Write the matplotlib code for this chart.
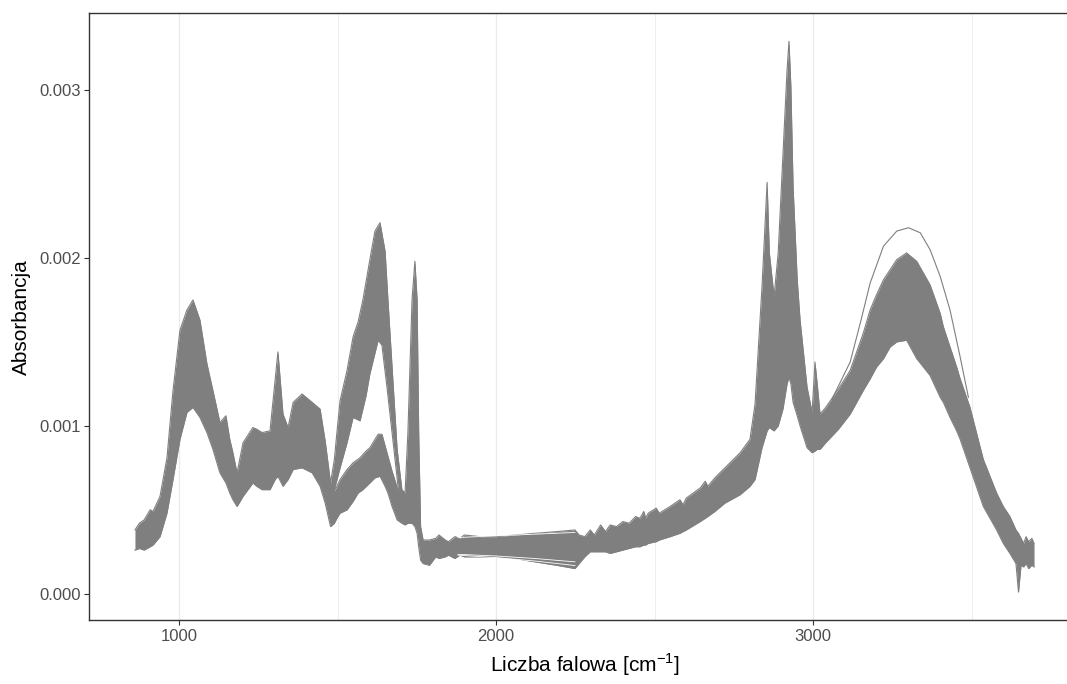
import numpy as np
import matplotlib
matplotlib.use('Agg')
import matplotlib.pyplot as plt

plt.rcParams['font.family'] = ['Liberation Sans', 'DejaVu Sans']
plt.rcParams['mathtext.fontset'] = 'custom'
plt.rcParams['mathtext.rm'] = 'Liberation Sans'

# Spectra envelope (absorbance in units of 1e-3)
wavenumber = [861, 875, 890, 909, 918, 940, 962, 981, 1003, 1025, 1044, 1066, 1088, 1107,
              1129, 1148, 1160, 1170, 1183, 1202, 1233, 1245, 1262, 1287, 1303, 1312, 1328,
              1344, 1360, 1388, 1420, 1445, 1461, 1478, 1490, 1498, 1508, 1530, 1549, 1565,
              1580, 1602, 1618, 1634, 1650, 1659, 1672, 1688, 1703, 1713, 1722, 1735, 1744,
              1751, 1756, 1762, 1770, 1790, 1810, 1820, 1840, 1850, 1870, 1886, 1900, 1950,
              2000, 2060, 2123, 2190, 2249, 2262, 2280, 2297, 2310, 2330, 2345, 2360, 2380,
              2400, 2420, 2440, 2454, 2466, 2472, 2480, 2505, 2515, 2549, 2580, 2590, 2600,
              2644, 2660, 2668, 2690, 2722, 2770, 2801,
              2817, 2839, 2855, 2862, 2877, 2890, 2905, 2918, 2924, 2930, 2937, 2950, 2959,
              2981, 2997, 3006, 3013, 3022, 3040, 3080, 3117, 3158, 3180, 3200, 3222, 3243,
              3264, 3295, 3327, 3369, 3401, 3411, 3432, 3453, 3464, 3495, 3537, 3579, 3600,
              3621, 3640, 3648, 3656, 3664, 3672, 3680, 3690, 3697]
upper = [0.38, 0.42, 0.44, 0.50, 0.49, 0.58, 0.81, 1.21, 1.57, 1.69, 1.75, 1.63, 1.37, 1.21,
         1.02, 1.06, 0.92, 0.84, 0.72, 0.90, 0.99, 0.98, 0.96, 0.97, 1.27, 1.44, 1.07,
         0.99, 1.14, 1.19, 1.14, 1.10, 0.91, 0.66, 0.80, 0.96, 1.15, 1.33, 1.53, 1.62,
         1.75, 1.99, 2.16, 2.21, 2.04, 1.75, 1.35, 0.86, 0.62, 0.60, 0.96, 1.75, 1.98,
         1.75, 0.96, 0.40, 0.32, 0.32, 0.33, 0.35, 0.32, 0.31, 0.34, 0.33, 0.35, 0.34,
         0.34, 0.35, 0.36, 0.37, 0.38, 0.35, 0.34, 0.38, 0.35, 0.41, 0.37, 0.41, 0.40,
         0.43, 0.42, 0.46, 0.45, 0.49, 0.45, 0.48, 0.51, 0.48, 0.52, 0.56, 0.53, 0.57,
         0.63, 0.67, 0.64, 0.69, 0.75, 0.84, 0.92,
         1.13, 1.83, 2.45, 2.03, 1.77, 2.03, 2.62, 3.12, 3.29, 3.02, 2.42, 1.87, 1.63,
         1.23, 1.08, 1.38, 1.25, 1.07, 1.11, 1.22, 1.33, 1.55, 1.69, 1.78, 1.87, 1.93,
         1.99, 2.03, 1.98, 1.84, 1.67, 1.59, 1.47, 1.35, 1.28, 1.11, 0.80, 0.60, 0.52,
         0.46, 0.38, 0.36, 0.33, 0.30, 0.34, 0.31, 0.33, 0.30]
lower = [0.26, 0.27, 0.26, 0.28, 0.29, 0.34, 0.48, 0.68, 0.92, 1.08, 1.11, 1.05, 0.96, 0.86,
         0.72, 0.66, 0.60, 0.56, 0.52, 0.58, 0.66, 0.64, 0.62, 0.62, 0.68, 0.70, 0.64,
         0.68, 0.74, 0.75, 0.72, 0.64, 0.54, 0.40, 0.42, 0.45, 0.48, 0.50, 0.55, 0.60,
         0.62, 0.66, 0.69, 0.70, 0.64, 0.60, 0.52, 0.44, 0.42, 0.41, 0.42, 0.42, 0.40,
         0.36, 0.28, 0.20, 0.18, 0.17, 0.22, 0.21, 0.22, 0.23, 0.21, 0.23, 0.22, 0.22,
         0.22, 0.21, 0.19, 0.17, 0.15, 0.18, 0.22, 0.25, 0.25, 0.25, 0.25, 0.24, 0.25,
         0.26, 0.27, 0.28, 0.28, 0.29, 0.29, 0.30, 0.31, 0.32, 0.34, 0.36, 0.37, 0.38,
         0.43, 0.45, 0.46, 0.49, 0.54, 0.59, 0.64,
         0.68, 0.87, 0.97, 0.99, 0.97, 1.00, 1.10, 1.25, 1.29, 1.25, 1.14, 1.06, 1.00,
         0.87, 0.84, 0.85, 0.86, 0.86, 0.90, 0.98, 1.07, 1.21, 1.28, 1.35, 1.40, 1.47,
         1.50, 1.51, 1.40, 1.30, 1.17, 1.14, 1.05, 0.97, 0.92, 0.75, 0.52, 0.38, 0.30,
         0.24, 0.18, 0.01, 0.17, 0.16, 0.18, 0.15, 0.17, 0.16]

# white gap between the two groups of spectra around 1640 cm-1
gap_wn = [1490, 1508, 1530, 1549, 1571, 1590, 1602, 1628, 1640, 1656, 1672, 1692]
gap_top = [0.62, 0.75, 0.90, 1.05, 1.03, 1.18, 1.31, 1.51, 1.48, 1.23, 0.96, 0.62]
gap_bottom = [0.61, 0.68, 0.74, 0.78, 0.81, 0.85, 0.87, 0.95, 0.95, 0.84, 0.73, 0.61]

# single spectrum sitting above the rest on the OH band
outlier_wn = [3060, 3117, 3150, 3180, 3222, 3264, 3301, 3338, 3369, 3401, 3432, 3464, 3490]
outlier = [1.16, 1.38, 1.62, 1.85, 2.07, 2.16, 2.18, 2.15, 2.05, 1.89, 1.69, 1.41, 1.17]

# a few separations between lines on the flat part
sep_wn = [1880, 2000, 2123, 2249]
sep_high = [0.335, 0.345, 0.355, 0.365]
sep_low1 = [0.235, 0.225, 0.21, 0.19]
sep_low2 = [0.23, 0.215, 0.195, 0.168]

scale = 1e-3
grey = '#7F7F7F'

fig = plt.figure(figsize=(10.67, 6.84), dpi=100)
ax = fig.add_axes([89.3 / 1067, 63.7 / 684, (1080 - 89.3) / 1067, (620.3 - 13.3) / 684])

for x in [1000, 2000, 3000]:
    ax.axvline(x, color='#EBEBEB', lw=0.9, zorder=0)
for x in [1500, 2500, 3500]:
    ax.axvline(x, color='#EBEBEB', lw=0.6, zorder=0)

up = np.array(upper) * scale
lo = np.array(lower) * scale
ax.fill_between(wavenumber, lo, up, color=grey, lw=0, zorder=2)
ax.plot(wavenumber, up, color=grey, lw=0.8, zorder=2)
ax.plot(wavenumber, lo, color=grey, lw=0.8, zorder=2)

gt = np.array(gap_top) * scale
gb = np.array(gap_bottom) * scale
ax.fill_between(gap_wn, gb, gt, color='white', lw=0, zorder=3)
ax.plot(gap_wn, gt, color=grey, lw=0.8, zorder=4)
ax.plot(gap_wn, gb, color=grey, lw=0.8, zorder=4)

for sep in [sep_high, sep_low1, sep_low2]:
    ax.plot(sep_wn, np.array(sep) * scale, color='white', lw=0.6, zorder=3)

ax.plot(outlier_wn, np.array(outlier) * scale, color=grey, lw=0.8, zorder=4)

ax.set_xlim(717, 3842)
ax.set_ylim(-0.158e-3, 3.457e-3)
ax.set_xticks([1000, 2000, 3000])
ax.set_xticklabels(['1000', '2000', '3000'])
ax.set_yticks([0, 0.001, 0.002, 0.003])
ax.set_yticklabels(['0.000', '0.001', '0.002', '0.003'])
ax.tick_params(length=3.8, width=0.8, color='#333333', labelcolor='#4D4D4D',
               labelsize=12, pad=2.5)
for s in ax.spines.values():
    s.set_color('#333333')
    s.set_linewidth(1.0)

ax.set_xlabel('Liczba falowa [cm$^{-1}$]', fontsize=15, labelpad=5)
ax.set_ylabel('Absorbancja', fontsize=15, labelpad=6)

fig.savefig('out.png', dpi=100)
